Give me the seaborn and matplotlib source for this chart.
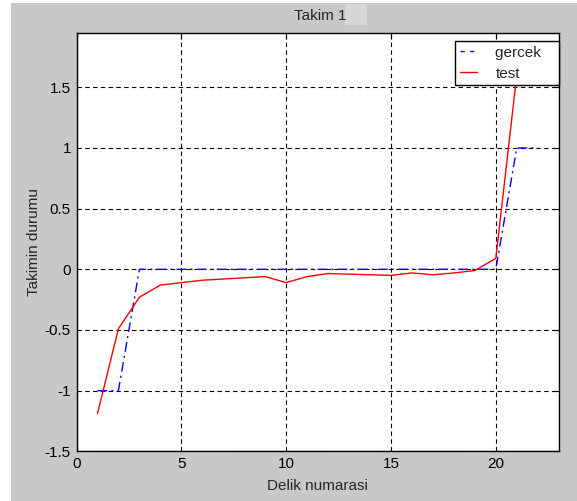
import matplotlib
matplotlib.use("Agg")
import matplotlib.pyplot as plt
import seaborn as sns
import pandas as pd
from matplotlib.patches import Rectangle

# Data
delik = list(range(1, 23))
gercek = [-1, -1, 0, 0, 0, 0, 0, 0, 0, 0, 0, 0, 0, 0, 0, 0, 0, 0, 0, 0, 1, 1]
test = [-1.19, -0.49, -0.23, -0.13, -0.11, -0.09, -0.08, -0.07, -0.06, -0.11,
        -0.06, -0.035, -0.04, -0.045, -0.05, -0.03, -0.045, -0.03, -0.01, 0.09,
        1.6, 1.6]
xticks = [0, 5, 10, 15, 20]
yticks = [-1.5, -1, -0.5, 0, 0.5, 1, 1.5]
ytick_labels = ["-1.5", "-1", "-0.5", "0", "0.5", "1", "1.5"]

sns.set_style("white")
plt.rcParams['font.family'] = ['Liberation Sans', 'DejaVu Sans']

W, H = 577, 501
fig = plt.figure(figsize=(W / 100, H / 100), dpi=100, facecolor="white")
# grey figure background (with thin white strip at left/top as in reference)
fig.patches.append(Rectangle((11 / W, 0), 1 - 11 / W, 1 - 3 / H,
                             transform=fig.transFigure, facecolor="#c8c8c8",
                             edgecolor="none", zorder=-10))
# lighter box after title
fig.patches.append(Rectangle((345 / W, 1 - 25 / H), 22 / W, 21 / H,
                             transform=fig.transFigure, facecolor="#d6d6d6",
                             edgecolor="none", zorder=-5))

left, right, top, bottom = 76.5, 558.7, 32.7, 451.3
ax = fig.add_axes([left / W, 1 - bottom / H, (right - left) / W, (bottom - top) / H])
ax.set_facecolor("white")

df_g = pd.DataFrame({"x": delik, "y": gercek})
df_t = pd.DataFrame({"x": delik, "y": test})
sns.lineplot(data=df_g, x="x", y="y", ax=ax, color="blue", linewidth=1.0,
             label="gercek   ")
ax.lines[-1].set_dashes([7, 3, 1.5, 3])
sns.lineplot(data=df_t, x="x", y="y", ax=ax, color="red", linewidth=1.0,
             label="test")

ax.set_xlim(0, 23)
ax.set_ylim(-1.5, 1.95)
ax.set_xticks(xticks)
ax.set_yticks(yticks)
ax.set_yticklabels(ytick_labels)
ax.grid(True, color="black", linestyle=(0, (4, 3)), linewidth=0.8)
ax.tick_params(direction="in", length=4, labelsize=11, colors="black",
               top=True, right=True, pad=4)
for s in ax.spines.values():
    s.set_color("black")
    s.set_linewidth(1.0)

ax.set_xlabel("Delik numarasi", fontsize=11, labelpad=6)
ax.set_ylabel("Takimin durumu", fontsize=11, labelpad=3)
ax.set_title("Takim 1", fontsize=11, pad=9, x=0.505)

leg = ax.legend(loc="upper right", bbox_to_anchor=(1.0, 0.980), borderaxespad=0,
                frameon=True, fancybox=False, fontsize=11, handlelength=1.15,
                handletextpad=1.2, borderpad=0.3, labelspacing=0.45,
                framealpha=1, edgecolor="black")
leg.get_frame().set_linewidth(1.0)
leg.get_lines()[0].set_dashes([3, 4])

fig.savefig("out.png", dpi=100, facecolor=fig.get_facecolor())
